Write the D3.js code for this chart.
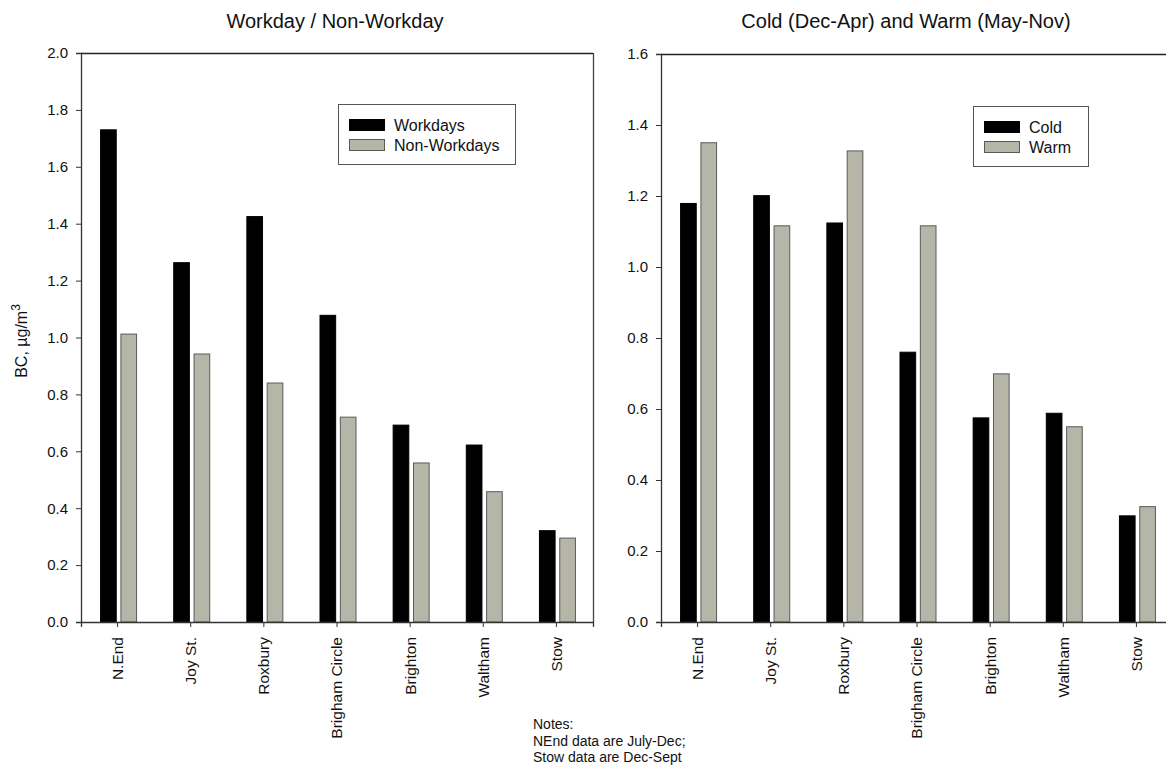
<!DOCTYPE html>
<html>
<head>
<meta charset="utf-8">
<script src="https://cdn.jsdelivr.net/npm/d3@7"></script>
<style>
  html, body { margin: 0; padding: 0; background: #fff; }
  svg { display: block; font-family: "Liberation Sans", Arial, sans-serif; }
</style>
</head>
<body>
<svg id="chart" width="1166" height="767"></svg>
<script>
// ---- data ----
const sites = ["N.End", "Joy St.", "Roxbury", "Brigham Circle", "Brighton", "Waltham", "Stow"];

const workdays    = [1.73, 1.263, 1.425, 1.078, 0.692, 0.622, 0.321];
const nonWorkdays = [1.012, 0.942, 0.84, 0.72, 0.559, 0.458, 0.295];

const cold = [1.179, 1.201, 1.124, 0.76, 0.575, 0.588, 0.299];
const warm = [1.350, 1.116, 1.327, 1.116, 0.699, 0.550, 0.325];

const leftTicks  = [0.0, 0.2, 0.4, 0.6, 0.8, 1.0, 1.2, 1.4, 1.6, 1.8, 2.0];
const rightTicks = [0.0, 0.2, 0.4, 0.6, 0.8, 1.0, 1.2, 1.4, 1.6];

const leftSeries  = ["Workdays", "Non-Workdays"];
const rightSeries = ["Cold", "Warm"];

const titles = ["Workday / Non-Workday", "Cold (Dec-Apr) and Warm (May-Nov)"];
const notes = ["Notes:", "NEnd data are July-Dec;", "Stow data are Dec-Sept"];

// ---- drawing ----
const svg = d3.select("#chart");
const colors = ["#000000", "#b5b6a8"];
const strokes = ["#000000", "#5a5a5a"];
const FONT = "Liberation Sans, Arial, sans-serif";

function panel(opts) {
  const {x0, x1, y0, y1, ymax, ticks, series, names, title, legend} = opts;
  const g = svg.append("g");
  const x = d3.scaleBand().domain(sites).range([x0, x1]);
  const y = d3.scaleLinear().domain([0, ymax]).range([y1, y0]);
  const inner = d3.scaleBand().domain([0, 1]).range([x.bandwidth()/2 - 17, x.bandwidth()/2 + 19]).paddingInner(0.23);

  // frame top & right
  g.append("line").attr("x1", x0).attr("x2", x1).attr("y1", y0 + 0.5).attr("y2", y0 + 0.5)
    .attr("stroke", "#222").attr("stroke-width", 1.3);
  g.append("line").attr("x1", x1 + 0.5).attr("x2", x1 + 0.5).attr("y1", y0).attr("y2", y1)
    .attr("stroke", "#444").attr("stroke-width", 1.3);

  // bars
  series.forEach((vals, si) => {
    g.selectAll(null).data(vals).enter().append("rect")
      .attr("x", (d, i) => x(sites[i]) + inner(si))
      .attr("y", d => y(d))
      .attr("width", inner.bandwidth())
      .attr("height", d => y(0) - y(d))
      .attr("fill", colors[si])
      .attr("stroke", strokes[si])
      .attr("stroke-width", 1);
  });

  // y axis
  const ya = g.append("g").attr("transform", `translate(${x0},0)`)
    .call(d3.axisLeft(y).tickValues(ticks).tickFormat(d3.format(".1f")).tickSizeOuter(0).tickSize(5).tickPadding(8));
  ya.select(".domain").attr("stroke", "#333").attr("stroke-width", 1.3);
  ya.selectAll(".tick line").attr("stroke", "#333");
  ya.selectAll("text").attr("font-size", 15).attr("fill", "#111").attr("font-family", FONT);

  // x axis
  const xa = g.append("g").attr("transform", `translate(0,${y1})`)
    .call(d3.axisBottom(x).tickSizeOuter(0).tickSize(5).tickPadding(0));
  xa.select(".domain").attr("stroke", "#333").attr("stroke-width", 1.3);
  xa.selectAll(".tick line").attr("stroke", "#333");
  xa.selectAll("text")
    .attr("font-size", 15.5).attr("fill", "#111").attr("font-family", FONT)
    .attr("text-anchor", "end")
    .attr("transform", "rotate(-90)")
    .attr("x", -15).attr("y", 0).attr("dy", "0.35em");

  // title
  svg.append("text").attr("x", opts.titleX).attr("y", 28)
    .attr("text-anchor", "middle").attr("font-size", 20).attr("fill", "#111").text(title);

  // legend
  const lg = svg.append("g");
  lg.append("rect").attr("x", legend.x + 0.5).attr("y", legend.y + 0.5).attr("width", legend.w).attr("height", legend.h)
    .attr("fill", "#fff").attr("stroke", "#555").attr("stroke-width", 1);
  names.forEach((n, i) => {
    lg.append("rect").attr("x", legend.x + 11.5).attr("y", legend.y + 15.5 + i * 20).attr("width", 35).attr("height", 11)
      .attr("fill", colors[i]).attr("stroke", strokes[i]).attr("stroke-width", 1);
    lg.append("text").attr("x", legend.x + 56).attr("y", legend.y + 21 + i * 20).attr("dy", "0.35em")
      .attr("font-size", 16).attr("fill", "#111").text(n);
  });
}

panel({x0: 81, x1: 593, y0: 53, y1: 622, ymax: 2.0, ticks: leftTicks,
  series: [workdays, nonWorkdays], names: leftSeries, title: titles[0], titleX: 335,
  legend: {x: 338, y: 104, w: 177, h: 60}});

panel({x0: 661, x1: 1173, y0: 54, y1: 622, ymax: 1.6, ticks: rightTicks,
  series: [cold, warm], names: rightSeries, title: titles[1], titleX: 906,
  legend: {x: 973, y: 106, w: 115, h: 60}});

// y axis label
const yl = svg.append("text").attr("transform", "translate(27,341) rotate(-90)")
  .attr("text-anchor", "middle").attr("font-size", 16).attr("fill", "#111");
yl.append("tspan").text("BC, \u00b5g/m");
yl.append("tspan").attr("dy", -7).attr("font-size", 12).text("3");

// notes
svg.append("g").selectAll("text").data(notes).enter().append("text")
  .attr("x", 533).attr("y", (d, i) => 729 + i * 16.5)
  .attr("font-size", 14).attr("fill", "#111").text(d => d);
</script>
</body>
</html>
